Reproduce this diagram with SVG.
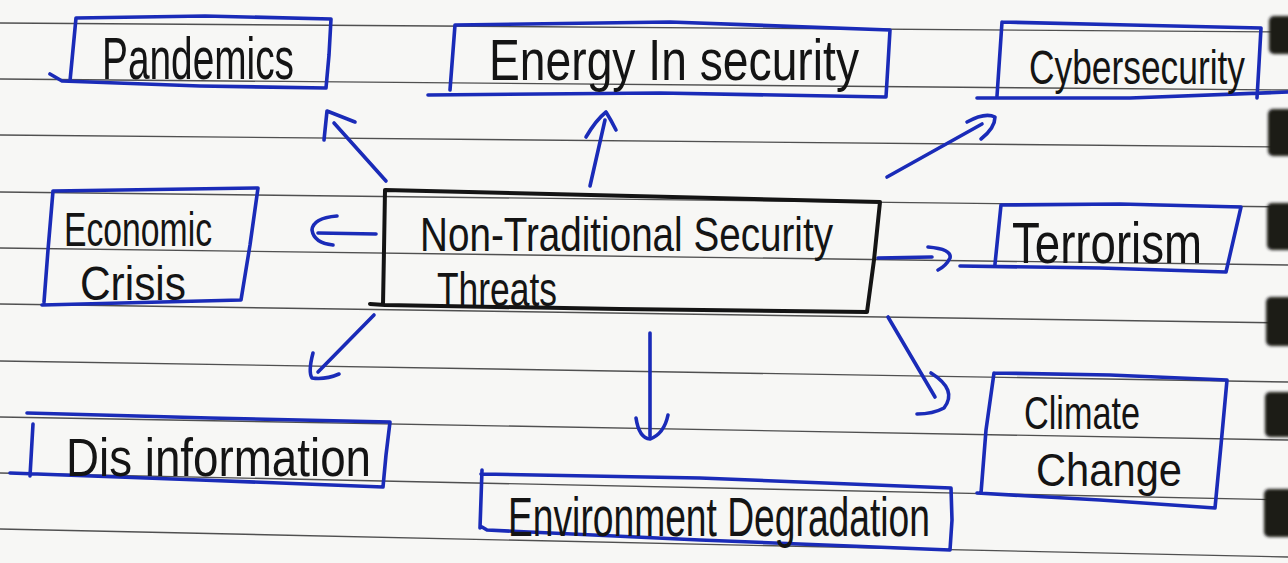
<svg xmlns="http://www.w3.org/2000/svg" width="1288" height="563" viewBox="0 0 1288 563">
  <style>
    .rule { stroke: #505050; stroke-width: 1.4; fill: none; }
    .tab { fill: #1b1a19; }
    .pen { fill: none; stroke: #1a2bb8; stroke-width: 3.6; stroke-linecap: round; stroke-linejoin: round; }
    .ink { fill: none; stroke: #141414; stroke-width: 4; stroke-linecap: round; stroke-linejoin: round; }
    .lbl { font-family: "Liberation Sans", Arial, sans-serif; fill: #141414; font-weight: normal; }
  </style>
  <defs>
    <filter id="soft" x="-20%" y="-20%" width="140%" height="140%">
      <feGaussianBlur stdDeviation="1.6"/>
    </filter>
  </defs>

  <!-- paper -->
  <rect width="1288" height="563" fill="#f7f7f5"/>

  <!-- ruled lines, fanning slightly toward the right edge -->
  <g id="ruling">
    <line class="rule" x1="0" y1="23" x2="1288" y2="32"/>
    <line class="rule" x1="0" y1="79" x2="1288" y2="90"/>
    <line class="rule" x1="0" y1="135" x2="1288" y2="147"/>
    <line class="rule" x1="0" y1="192" x2="1288" y2="207"/>
    <line class="rule" x1="0" y1="248" x2="1288" y2="265"/>
    <line class="rule" x1="0" y1="304" x2="1288" y2="323"/>
    <line class="rule" x1="0" y1="361" x2="1288" y2="382"/>
    <line class="rule" x1="0" y1="417" x2="1288" y2="440"/>
    <line class="rule" x1="0" y1="473" x2="1288" y2="500"/>
    <line class="rule" x1="0" y1="529" x2="1288" y2="557"/>
  </g>

  <!-- binder tabs along the right edge -->
  <g id="binding" filter="url(#soft)">
    <rect class="tab" x="1269" y="16" width="30" height="38" rx="5"/>
    <rect class="tab" x="1268" y="109" width="30" height="47" rx="5"/>
    <rect class="tab" x="1267" y="203" width="30" height="47" rx="5"/>
    <rect class="tab" x="1266" y="297" width="30" height="49" rx="5"/>
    <rect class="tab" x="1265" y="392" width="30" height="45" rx="5"/>
    <rect class="tab" x="1264" y="489" width="30" height="48" rx="5"/>
  </g>

  <!-- arrows from the central topic -->
  <g id="connectors">
    <!-- to Pandemics -->
    <path class="pen" d="M386,181 L334,123"/>
    <path class="pen" d="M324,140 L327,111 L355,122"/>
    <!-- to Energy In security -->
    <path class="pen" d="M590,186 L605,120"/>
    <path class="pen" d="M586,137 Q596,120 606,112 Q611,120 616,130"/>
    <!-- to Cybersecurity -->
    <path class="pen" d="M887,177 L982,124"/>
    <path class="pen" d="M967,122 Q985,112 995,117 Q995,128 981,139"/>
    <!-- to Economic Crisis -->
    <path class="pen" d="M376,234 L318,233"/>
    <path class="pen" d="M337,216 Q313,218 312,230 Q314,243 333,245"/>
    <!-- to Terrorism -->
    <path class="pen" d="M878,258 L932,257"/>
    <path class="pen" d="M928,247 Q952,249 950,258 Q946,266 938,270"/>
    <!-- to Dis information -->
    <path class="pen" d="M374,315 L318,372"/>
    <path class="pen" d="M313,353 Q308,372 312,378 Q325,380 339,374"/>
    <!-- to Environment Degradation -->
    <path class="pen" d="M650,333 L650,436"/>
    <path class="pen" d="M636,418 Q639,438 650,439 Q664,434 668,415"/>
    <!-- to Climate Change -->
    <path class="pen" d="M888,317 L935,397"/>
    <path class="pen" d="M931,373 Q958,390 944,408 Q933,414 917,414"/>
  </g>

  <!-- labels are set narrow and tall, like the hand lettering -->
  <g id="node-center">
    <path class="ink" d="M385,190 L632,196 L880,202 L874,260 L867,312 L620,309 L385,305 L370,304 M385,190 L384,250 L383,305"/>
    <text class="lbl" transform="translate(420,251) scale(1,1.25)" font-size="38.5" textLength="413" lengthAdjust="spacingAndGlyphs">Non-Traditional Security</text>
    <text class="lbl" transform="translate(437,306) scale(1,1.36)" font-size="35.4" textLength="120" lengthAdjust="spacingAndGlyphs">Threats</text>
  </g>

  <g id="node-pandemics">
    <path class="pen" d="M76,18 L205,16 L331,19 L329,55 L326,88 L200,86 L62,81 L50,74 M76,18 L70,81"/>
    <text class="lbl" transform="translate(102,79) scale(1,1.55)" font-size="38.8" textLength="192" lengthAdjust="spacingAndGlyphs">Pandemics</text>
  </g>

  <g id="node-energy">
    <path class="pen" d="M455,25 L670,22 L890,30 L888,64 L886,97 L660,93 L428,95 M455,25 L450,90"/>
    <text class="lbl" transform="translate(489,80) scale(1,1.3)" font-size="44.7" textLength="370" lengthAdjust="spacingAndGlyphs">Energy  In security</text>
  </g>

  <g id="node-cyber">
    <path class="pen" d="M1002,22 L1130,25 L1261,28 L1259,64 L1257,98 M977,98 L1130,98 L1288,92 M1002,22 L997,96"/>
    <text class="lbl" transform="translate(1029,84) scale(1,1.36)" font-size="35.3" textLength="216" lengthAdjust="spacingAndGlyphs">Cybersecurity</text>
  </g>

  <g id="node-economic">
    <path class="pen" d="M53,191 L258,188 L250,245 L241,300 L42,305 M53,191 L48,250 L44,302"/>
    <text class="lbl" transform="translate(64,246) scale(1,1.42)" font-size="33.7" textLength="148" lengthAdjust="spacingAndGlyphs">Economic</text>
    <text class="lbl" transform="translate(80,300) scale(1,1.13)" font-size="42.4" textLength="106" lengthAdjust="spacingAndGlyphs">Crisis</text>
  </g>

  <g id="node-terrorism">
    <path class="pen" d="M1001,205 L1120,204 L1241,207 L1226,272 L1100,268 L960,266 M1001,205 L995,264"/>
    <text class="lbl" transform="translate(1012,263) scale(1,1.31)" font-size="44.4" textLength="190" lengthAdjust="spacingAndGlyphs">Terrorism</text>
  </g>

  <g id="node-disinformation">
    <path class="pen" d="M27,413 L210,418 L390,422 L386,455 L383,487 L200,480 L10,473 M33,424 L30,476"/>
    <text class="lbl" transform="translate(66,476) scale(1,1.23)" font-size="43.9" textLength="305" lengthAdjust="spacingAndGlyphs">Dis  information</text>
  </g>

  <g id="node-environment">
    <path class="pen" d="M481,474 L700,478 L951,488 L952,520 L950,550 L700,540 L487,530 L482,527 M482,470 L480,528"/>
    <text class="lbl" transform="translate(508,536) scale(1,1.5)" font-size="37.2" textLength="422" lengthAdjust="spacingAndGlyphs">Environment Degradation</text>
  </g>

  <g id="node-climate">
    <path class="pen" d="M994,373 L1110,375 L1227,380 L1221,445 L1215,508 L1100,500 L977,493 M994,373 L986,430 L981,493"/>
    <text class="lbl" transform="translate(1024,429) scale(1,1.37)" font-size="34.2" textLength="116" lengthAdjust="spacingAndGlyphs">Climate</text>
    <text class="lbl" transform="translate(1036,486) scale(1,1.13)" font-size="41.7" textLength="146" lengthAdjust="spacingAndGlyphs">Change</text>
  </g>
</svg>
